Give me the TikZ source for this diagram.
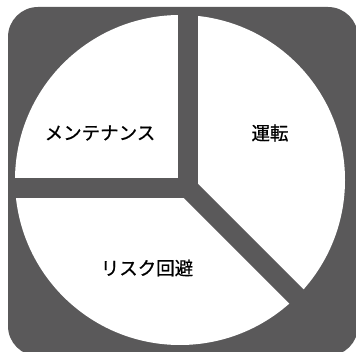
\documentclass[tikz,border=0pt]{standalone}
\usepackage{fontspec}
\newfontfamily\jpfont[FakeBold=0.6]{Noto Sans CJK JP}
\definecolor{bggray}{HTML}{5A595A}
\begin{document}
\begin{tikzpicture}[x=1pt,y=-1pt,
  gapbar/.style={draw=bggray,line width=20pt,line cap=butt},
  label/.style={font=\jpfont\fontsize{18.5}{20}\selectfont,text=black,inner sep=0pt}]
\useasboundingbox (0,0) rectangle (356,352);
\fill[bggray,rounded corners=30pt] (8,7) rectangle (358,356);
\fill[white] (180,180) circle[radius=165pt];
\coordinate (c) at (188,188);
\coordinate (top) at (188,9);
\coordinate (left) at (10,188);
\coordinate (diag) at (345,345);
\draw[gapbar] (c) -- (top);
\draw[gapbar] (c) -- (left);
\draw[gapbar] (c) -- (diag);
\fill[bggray] (178,178) rectangle (198,198);
\node[label] (m) at (100,133) {メンテナンス};
\node[label] (u) at (270,133) {運転};
\node[label] (r) at (147,268) {リスク回避};
\end{tikzpicture}
\end{document}
